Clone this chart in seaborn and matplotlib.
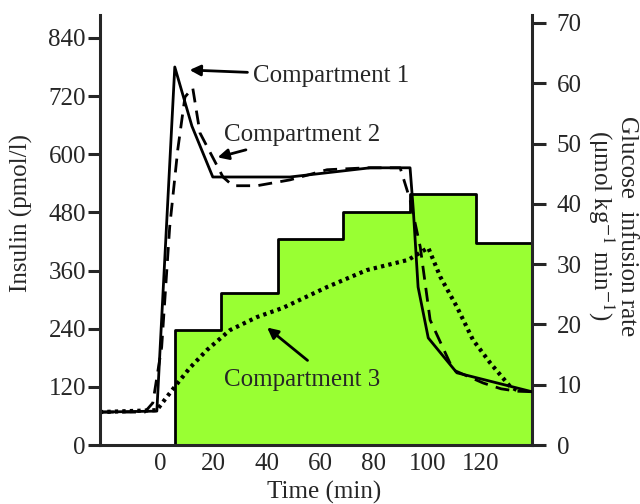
import numpy as np
import pandas as pd
import matplotlib
matplotlib.use("Agg")
import matplotlib.pyplot as plt
import seaborn as sns

# --- data ---
# compartment 1 (solid)
t1 = [-22.4, -1.1, 5.6, 12, 19.8, 48.6, 78.6, 93.5, 94.7, 96.5, 100.3, 111, 139]
ins1 = [68, 70, 780, 658, 553, 553, 572, 572, 486, 326, 221, 149, 110]
# compartment 2 (dashed)
t2 = [-22.4, -5.6, -2.6, 0.7, 3.7, 6.7, 9.4, 12.3, 15, 23.6, 27.3, 36.3, 48.6,
      62.5, 77.4, 89.8, 93.5, 97.3, 101, 109.6, 120.8, 127.5, 133.6, 139]
ins2 = [68, 68, 87, 202, 450, 609, 718, 737, 644, 553, 535, 535, 547,
        568, 572, 572, 506, 409, 258, 155, 128, 116, 111, 110]
# compartment 3 (dotted)
t3 = [-22.4, -1.1, 2.6, 6.7, 11.2, 17.6, 26.2, 36.3, 46, 62.5, 77.4, 92.8,
      100.3, 104.8, 111, 117, 123.5, 131, 133.6]
ins3 = [68, 72, 99, 128, 159, 196, 237, 264, 283, 326, 361, 382,
        407, 347, 285, 217, 169, 120, 113]
# glucose infusion rate (step, right axis)
g_time = [5.5, 23, 44, 68.5, 93.5, 118, 139]
g_rate = [19.1, 25.2, 34.1, 38.7, 41.6, 33.5, 33.5]

left_ticks = [0, 120, 240, 360, 480, 600, 720, 840]
right_ticks = [0, 10, 20, 30, 40, 50, 60, 70]
x_ticks = [0, 20, 40, 60, 80, 100, 120]

sns.set_style("ticks")
plt.rcParams["font.family"] = ["Liberation Serif", "DejaVu Serif"]
plt.rcParams["mathtext.fontset"] = "stix"

fig, ax = plt.subplots(figsize=(6.4, 5.04), dpi=100)
fig.subplots_adjust(left=0.156, right=0.831, bottom=0.117, top=0.970)
ax2 = ax.twinx()

# glucose steps behind the insulin curves
ax2.fill_between(g_time, g_rate, step="post", facecolor="#99ff33",
                 edgecolor="black", linewidth=2.0)
ax2.set_ylim(0, 71.3)
ax2.set_yticks(right_ticks)

d1 = pd.DataFrame({"t": t1, "ins": ins1})
d2 = pd.DataFrame({"t": t2, "ins": ins2})
d3 = pd.DataFrame({"t": t3, "ins": ins3})
sns.lineplot(data=d1, x="t", y="ins", ax=ax, color="black", lw=2.0,
             estimator=None, sort=False)
sns.lineplot(data=d2, x="t", y="ins", ax=ax, color="black", lw=2.0,
             estimator=None, sort=False, linestyle=(0, (5, 3)))
sns.lineplot(data=d3, x="t", y="ins", ax=ax, color="black", lw=3.0,
             estimator=None, sort=False, linestyle=(0, (0.8, 1.0)))

ax.set_zorder(ax2.get_zorder() + 1)
ax.patch.set_visible(False)

ax.set_xlim(-22.4, 139)
ax.set_ylim(0, 887)
ax.set_xticks(x_ticks)
ax.set_yticks(left_ticks)

# annotations
arw = dict(arrowstyle="-|>", color="black", lw=2.0, mutation_scale=16)
ax.annotate("Compartment 1", xy=(10.1, 774), xytext=(35.0, 762),
            fontsize=18, va="center", ha="left", arrowprops=arw)
ax.annotate("Compartment 2", xy=(20.6, 592), xytext=(24.0, 640),
            fontsize=18, va="center", ha="left", arrowprops=arw)
ax.annotate("", xy=(39.3, 246), xytext=(56, 171), arrowprops=arw)
ax.text(24.0, 134, "Compartment 3", fontsize=18, va="center", ha="left")

# spines / ticks
for a in (ax, ax2):
    a.spines["top"].set_visible(False)
    for s in ("left", "right", "bottom"):
        a.spines[s].set_linewidth(2.2)
ax.spines["right"].set_visible(False)
ax2.spines["left"].set_visible(False)
ax2.spines["bottom"].set_visible(False)

ax.tick_params(axis="y", direction="out", length=9, width=2.2, labelsize=18, pad=1)
ax.tick_params(axis="x", length=0, labelsize=18, pad=6)
ax2.tick_params(axis="y", direction="out", length=10, width=2.2, labelsize=18, pad=8)

ax.set_xlabel("Time (min)", fontsize=18, va="top")
ax.set_ylabel("Insulin (pmol/l)", fontsize=18)
ax.xaxis.set_label_coords(0.519, -0.083)
ax.yaxis.set_label_coords(-0.155, 0.54)
ax2.set_ylabel("Glucose  infusion rate\n(μmol kg$^{-1}$ min$^{-1}$)",
               fontsize=18, rotation=270, va="center", linespacing=1.0)
ax2.yaxis.set_label_coords(1.185, 0.51)

fig.savefig("out.png", dpi=100)
